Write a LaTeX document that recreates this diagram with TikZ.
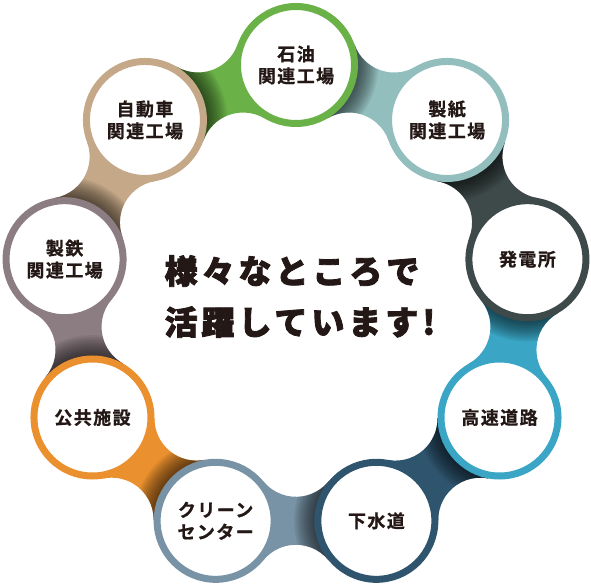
\documentclass[tikz,border=0pt]{standalone}
\usepackage{fontspec}
\usepackage{tikz}
\newfontfamily\jpfont{Noto Sans CJK JP Bold}[LetterSpace=8, FakeBold=0.8]
\newfontfamily\jpblack{Noto Sans CJK JP Black}[LetterSpace=12, FakeBold=2.5]
\definecolor{RingOil}{RGB}{106,178,72}
\definecolor{RingPaper}{RGB}{147,190,190}
\definecolor{RingPower}{RGB}{62,74,74}
\definecolor{RingRoad}{RGB}{58,165,196}
\definecolor{RingSewer}{RGB}{47,84,110}
\definecolor{RingClean}{RGB}{120,147,165}
\definecolor{RingPublic}{RGB}{234,144,46}
\definecolor{RingSteel}{RGB}{140,125,130}
\definecolor{RingAuto}{RGB}{196,168,135}
\definecolor{InkDark}{RGB}{35,24,21}

\begin{document}
\begin{tikzpicture}[
    x=1pt, y=1pt,
    spot/.style={circle, draw=#1, line width=7pt, fill=white, minimum size=117pt,
                 inner sep=0pt, align=center, text=InkDark,
                 font=\jpfont\fontsize{18}{22}\selectfont},
    neck/.style={fill=#1}
]
    \useasboundingbox (-296,-285) rectangle (295,300);
    % positions round the ring
    \foreach \n/\ang in {oil/90, paper/50, power/10, road/-30, sewer/-70,
                         clean/-110, public/-150, steel/170, auto/130}
        \coordinate (\n) at (\ang:235);
    % necks between neighbours, shaded next to the earlier circle
    \foreach \a/\b/\ang/\c in {oil/paper/70/RingPaper, paper/power/30/RingPower,
                               power/road/-10/RingRoad, road/sewer/-50/RingSewer,
                               sewer/clean/-90/RingClean, clean/public/-130/RingPublic,
                               public/steel/-170/RingSteel, steel/auto/150/RingAuto,
                               auto/oil/110/RingOil}{
        \begin{scope}[shift={(\ang:220.8)}, rotate=\ang-90]
            \path[neck=\c, path picture={
                    \foreach \k in {1,...,12}
                        \fill[black, opacity=0.06] (\a) circle (62+1.7*\k);
                }]
                (\a) -- (-32.5,39.35) arc[start angle=219.4, end angle=320.6, radius=42.05]
                -- (\b) -- (32.5,-39.35) arc[start angle=39.4, end angle=140.6, radius=42.05]
                -- cycle;
        \end{scope}
    }
    \node[spot=RingOil]    (oilSpot)    at (oil)    {石油\\関連工場};
    \node[spot=RingPaper]  (paperSpot)  at (paper)  {製紙\\関連工場};
    \node[spot=RingPower]  (powerSpot)  at (power)  {発電所};
    \node[spot=RingRoad]   (roadSpot)   at (road)   {高速道路};
    \node[spot=RingSewer]  (sewerSpot)  at (sewer)  {下水道};
    \node[spot=RingClean]  (cleanSpot)  at (clean)  {クリーン\\センター};
    \node[spot=RingPublic] (publicSpot) at (public) {公共施設};
    \node[spot=RingSteel]  (steelSpot)  at (steel)  {製鉄\\関連工場};
    \node[spot=RingAuto]   (autoSpot)   at (auto)   {自動車\\関連工場};
    \node[font=\jpblack\fontsize{33}{51}\selectfont, align=left, text=InkDark]
        (slogan) at (4,3.5) {様々なところで\\活躍しています!};
\end{tikzpicture}
\end{document}
